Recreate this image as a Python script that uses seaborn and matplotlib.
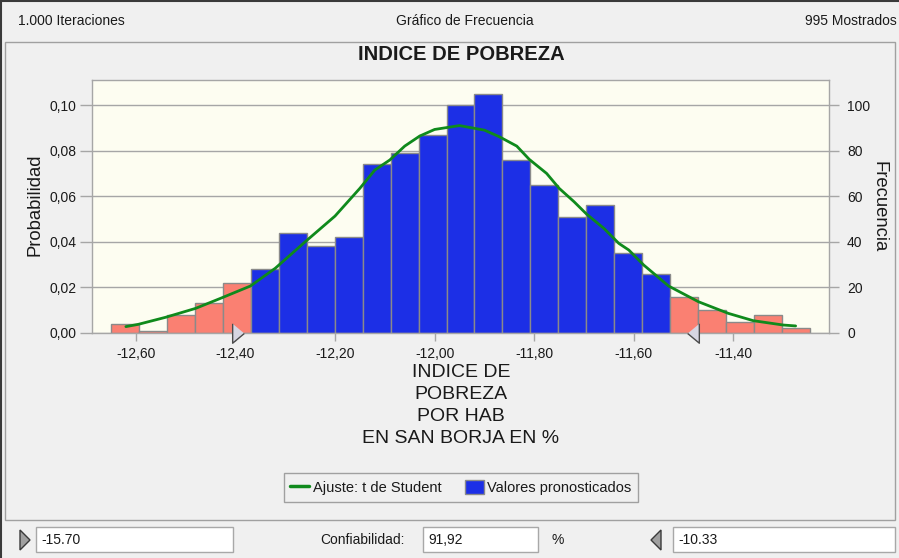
import numpy as np
import pandas as pd
import matplotlib
matplotlib.use("Agg")
import matplotlib.pyplot as plt
import seaborn as sns
from matplotlib.patches import Rectangle, Patch, Polygon
from matplotlib.lines import Line2D
from matplotlib.ticker import FixedLocator, FuncFormatter

# ---------------- data ----------------
bin_start = -12.650
bin_width = 0.05616
freq_left = [4, 1, 8, 13, 22]
freq_mid = [28, 44, 38, 42, 74, 79, 87, 100, 105, 76, 65, 51, 56, 35, 26]
freq_right = [16, 10, 5, 8, 2]
iterations = 1000

curve_x = [-12.62, -12.595, -12.54, -12.48, -12.43, -12.37, -12.32, -12.26,
           -12.20, -12.15, -12.12, -12.09, -12.06, -12.03, -12.00, -11.95,
           -11.90, -11.87, -11.835, -11.81, -11.775, -11.75, -11.72, -11.695,
           -11.66, -11.63, -11.61, -11.58, -11.53, -11.47, -11.41, -11.36,
           -11.30, -11.275]
curve_freq = [2.8, 3.8, 6.9, 10.8, 15.2, 20.6, 28.4, 40.0,
              51.3, 63.5, 71.5, 75.9, 82.0, 86.4, 89.3, 91.0,
              89.0, 86.1, 82.0, 76.2, 70.0, 63.5, 57.6, 52.2,
              45.9, 39.3, 36.4, 29.8, 20.6, 13.7, 8.6, 5.4,
              3.5, 3.1]

x_ticks = [-12.60, -12.40, -12.20, -12.00, -11.80, -11.60, -11.40]
prob_ticks = [0.00, 0.02, 0.04, 0.06, 0.08, 0.10]
freq_ticks = [0, 20, 40, 60, 80, 100]
lower_grabber = -12.395
upper_grabber = -11.481

header_left = "1.000 Iteraciones"
header_mid = "Gráfico de Frecuencia"
header_right = "995 Mostrados"
title = "INDICE DE POBREZA"
xlabel_lines = ["INDICE DE", "POBREZA", "POR HAB", "EN SAN BORJA EN %"]
legend_labels = ["Ajuste: t de Student", "Valores pronosticados"]
lower_value = "-15.70"
certainty = "91,92"
upper_value = "-10.33"

# ---------------- style ----------------
sns.set_style("white")
plt.rcParams["font.family"] = ["Liberation Sans", "DejaVu Sans"]

W, H = 899, 558
BG = "#f0f0f0"
PLOT_BG = "#fdfdf1"
BLUE = "#1c2fe6"
RED = "#fa8072"
EDGE = "#8a8a8a"
GREEN = "#0f8a1c"
GRID = "#a6a6a6"
TXT = "#1a1a1a"


def fx(px):
    return px / W


def fy(py):
    return 1 - py / H


fig = plt.figure(figsize=(W / 100, H / 100), dpi=100, facecolor=BG)

# panel frame
fig.patches.append(Rectangle((fx(5), fy(520)), fx(895) - fx(5), fy(42) - fy(520),
                             transform=fig.transFigure, facecolor="none",
                             edgecolor="#a0a0a0", lw=1.0))
# screenshot outer edges
fig.add_artist(Line2D([fx(0.8), fx(0.8)], [0, 1], transform=fig.transFigure, color="#3a3a3a", lw=1.5))
fig.add_artist(Line2D([0, 1], [fy(0.8), fy(0.8)], transform=fig.transFigure, color="#3a3a3a", lw=1.5))

# axes
L, R, T, B = 92, 829, 80, 333
ax = fig.add_axes([fx(L), fy(B), fx(R) - fx(L), fy(T) - fy(B)])
ax.set_facecolor(PLOT_BG)

n_bins = len(freq_left) + len(freq_mid) + len(freq_right)
edges = bin_start + bin_width * np.arange(n_bins + 1)
segments = [
    (freq_left, 0, RED),
    (freq_mid, len(freq_left), BLUE),
    (freq_right, len(freq_left) + len(freq_mid), RED),
]
for freqs, start, col in segments:
    seg_edges = edges[start:start + len(freqs) + 1]
    centers = (seg_edges[:-1] + seg_edges[1:]) / 2
    df = pd.DataFrame({"valor": centers, "prob": np.array(freqs, dtype=float) / iterations})
    sns.histplot(data=df, x="valor", weights="prob", bins=list(seg_edges),
                 color=col, alpha=1, edgecolor=EDGE, linewidth=1.0, ax=ax, zorder=2)

curve_df = pd.DataFrame({"valor": curve_x, "prob": np.array(curve_freq) / iterations})
sns.lineplot(data=curve_df, x="valor", y="prob", color=GREEN, lw=2.0, ax=ax, zorder=4)

ymax = 0.111
ax.set_xlim(-12.688, -11.208)
ax.set_ylim(0, ymax)
ax.set_axisbelow(True)
ax.yaxis.grid(True, color=GRID, lw=1.0)
ax.xaxis.grid(False)
ax.xaxis.set_major_locator(FixedLocator(x_ticks))
ax.xaxis.set_major_formatter(FuncFormatter(lambda v, p: f"{v:.2f}".replace(".", ",")))
ax.yaxis.set_major_locator(FixedLocator(prob_ticks))
ax.yaxis.set_major_formatter(FuncFormatter(lambda v, p: f"{v:.2f}".replace(".", ",")))
ax.tick_params(axis="x", length=6, width=1, color=GRID, pad=4, labelsize=10, labelcolor=TXT, bottom=True)
ax.tick_params(axis="y", length=9, width=1, color=GRID, pad=2, labelsize=10, labelcolor=TXT, left=True)
ax.set_xlabel("")
ax.set_ylabel("")
for s in ax.spines.values():
    s.set_visible(True)
    s.set_color(GRID)
    s.set_linewidth(1.0)

ax2 = ax.twinx()
ax2.set_ylim(0, ymax * iterations)
ax2.yaxis.set_major_locator(FixedLocator(freq_ticks))
ax2.tick_params(axis="y", length=7, width=1, color=GRID, pad=6, labelsize=10, labelcolor=TXT, right=True)
ax2.grid(False)
for s in ax2.spines.values():
    s.set_visible(False)

# certainty grabbers
tri_right = [(-3, 5), (-3, -5), (3, 0)]
tri_left = [(3, 5), (3, -5), (-3, 0)]
ax.plot([lower_grabber], [0], marker=tri_right, ms=14, mfc="#d6d6e2", mec="#4a4a4a",
        mew=1.0, clip_on=False, zorder=10, ls="none")
ax.plot([upper_grabber], [0], marker=tri_left, ms=14, mfc="#d6d6e2", mec="#4a4a4a",
        mew=1.0, clip_on=False, zorder=10, ls="none")

# texts
fig.text(fx(18), fy(21), header_left, ha="left", va="center", fontsize=10, color=TXT)
fig.text(fx(465), fy(21), header_mid, ha="center", va="center", fontsize=10, color=TXT)
fig.text(fx(897), fy(21), header_right, ha="right", va="center", fontsize=10, color=TXT)
fig.text(fx(461), fy(54), title, ha="center", va="center", fontsize=14.5,
         fontweight="bold", color=TXT)
fig.text(fx(35), fy(205), "Probabilidad", rotation=90, ha="center", va="center",
         fontsize=13.3, color=TXT)
fig.text(fx(879), fy(207), "Frecuencia", rotation=-90, ha="center", va="center",
         fontsize=13.3, color=TXT)
for i, line in enumerate(xlabel_lines):
    fig.text(fx(461), fy(372.5 + 22 * i), line, ha="center", va="center",
             fontsize=14, color=TXT)

# legend
handles = [Line2D([0], [0], color=GREEN, lw=2.5),
           Patch(facecolor=BLUE, edgecolor=EDGE, lw=1.0)]
leg = fig.legend(handles, legend_labels, loc="center",
                 bbox_to_anchor=(fx(461), fy(487.5)), ncol=2, frameon=True,
                 fancybox=False, edgecolor="#a0a0a0", facecolor=BG, framealpha=1,
                 fontsize=10.5, handlelength=1.3, handleheight=1.15,
                 handletextpad=0.25, columnspacing=1.6, borderpad=0.45)
leg.get_frame().set_linewidth(1.0)
for t in leg.get_texts():
    t.set_color(TXT)

# bottom controls
def box(x0, x1, y0=527, y1=552):
    fig.patches.append(Rectangle((fx(x0), fy(y1)), fx(x1) - fx(x0), fy(y0) - fy(y1),
                                 transform=fig.transFigure, facecolor="white",
                                 edgecolor="#a8a8a8", lw=1.0))

box(36, 233)
box(423, 538)
box(673, 895)
fig.text(fx(41), fy(540), lower_value, ha="left", va="center", fontsize=10, color=TXT)
fig.text(fx(320), fy(540), "Confiabilidad:", ha="left", va="center", fontsize=10, color=TXT)
fig.text(fx(428), fy(540), certainty, ha="left", va="center", fontsize=10, color=TXT)
fig.text(fx(551), fy(540), "%", ha="left", va="center", fontsize=10, color=TXT)
fig.text(fx(678), fy(540), upper_value, ha="left", va="center", fontsize=10, color=TXT)
fig.patches.append(Polygon([(fx(20), fy(530)), (fx(20), fy(550)), (fx(30), fy(540))],
                           closed=True, transform=fig.transFigure,
                           facecolor="#a0a0a0", edgecolor="#3a3a3a", lw=1.0))
fig.patches.append(Polygon([(fx(661), fy(530)), (fx(661), fy(550)), (fx(651), fy(540))],
                           closed=True, transform=fig.transFigure,
                           facecolor="#a0a0a0", edgecolor="#3a3a3a", lw=1.0))

fig.savefig("out.png", dpi=100, facecolor=BG)
